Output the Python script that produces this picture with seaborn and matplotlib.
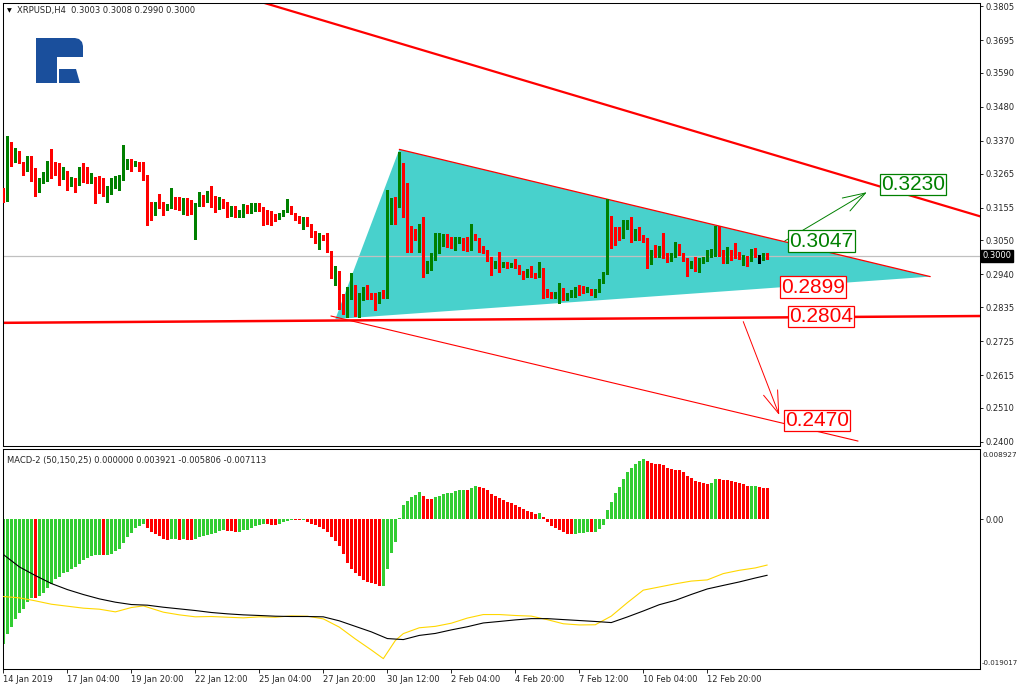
import numpy as np
import pandas as pd
import matplotlib
matplotlib.use('Agg')
import matplotlib.pyplot as plt
import matplotlib.transforms as mtransforms
from matplotlib.patches import Polygon
import seaborn as sns

# ---------------- data (H4 bars, 14 Jan 12:00 onward) ----------------
opens = [
    0.3199, 0.3188, 0.3342, 0.3313, 0.3338, 0.3302, 0.3275, 0.3320, 0.3282, 0.3207,
    0.3240, 0.3263, 0.3287, 0.3287, 0.3280, 0.3252, 0.3274, 0.3229, 0.3235, 0.3229,
    0.3265, 0.3259, 0.3248, 0.3252, 0.3248, 0.3227, 0.3202, 0.3202, 0.3220, 0.3235,
    0.3243, 0.3294, 0.3313, 0.3291, 0.3297, 0.3283, 0.3261, 0.3169, 0.3143, 0.3168,
    0.3164, 0.3154, 0.3156, 0.3190, 0.3186, 0.3151, 0.3177, 0.3164, 0.3139, 0.3164,
    0.3184, 0.3175, 0.3184, 0.3171, 0.3156, 0.3184, 0.3162, 0.3134, 0.3143, 0.3126,
    0.3139, 0.3162, 0.3143, 0.3162, 0.3169, 0.3151, 0.3139, 0.3130, 0.3130, 0.3124,
    0.3130, 0.3145, 0.3158, 0.3139, 0.3124, 0.3117, 0.3119, 0.3100, 0.3080, 0.3055,
    0.3066, 0.3059, 0.3014, 0.2932, 0.2950, 0.2874, 0.2841, 0.2888, 0.2898, 0.2852,
    0.2860, 0.2884, 0.2874, 0.2870, 0.2850, 0.2882, 0.2865, 0.3158, 0.3171, 0.3158,
    0.3298, 0.3214, 0.3088, 0.3085, 0.3060, 0.3081, 0.2960, 0.2981, 0.3002, 0.3044,
    0.3042, 0.3044, 0.3036, 0.3026, 0.3048, 0.3054, 0.3035, 0.3022, 0.3062, 0.3055,
    0.3023, 0.3019, 0.2994, 0.2962, 0.2976, 0.2965, 0.2978, 0.2967, 0.2976, 0.2967,
    0.2946, 0.2936, 0.2951, 0.2943, 0.2935, 0.2960, 0.2887, 0.2881, 0.2868, 0.2868,
    0.2893, 0.2860, 0.2877, 0.2879, 0.2898, 0.2893, 0.2888, 0.2890, 0.2874, 0.2888,
    0.2917, 0.2943, 0.3123, 0.3088, 0.3083, 0.3065, 0.3092, 0.3104, 0.3053, 0.3083,
    0.3062, 0.3056, 0.2992, 0.3019, 0.3008, 0.3013, 0.3002, 0.2986, 0.3002, 0.3012,
    0.3008, 0.2989, 0.2962, 0.2981, 0.2960, 0.2981, 0.2989, 0.2997, 0.3013, 0.3088,
    0.3015, 0.3002, 0.3010, 0.3010, 0.3008, 0.2995, 0.2997, 0.2989, 0.3015, 0.2999,
    0.2992, 0.3003,
]
highs = [
    0.3218, 0.3385, 0.3366, 0.3349, 0.3338, 0.3302, 0.3323, 0.3323, 0.3282, 0.3250,
    0.3269, 0.3306, 0.3345, 0.3302, 0.3300, 0.3285, 0.3274, 0.3253, 0.3252, 0.3285,
    0.3300, 0.3285, 0.3267, 0.3255, 0.3256, 0.3252, 0.3224, 0.3252, 0.3257, 0.3259,
    0.3356, 0.3313, 0.3313, 0.3304, 0.3301, 0.3302, 0.3261, 0.3175, 0.3175, 0.3199,
    0.3175, 0.3168, 0.3220, 0.3190, 0.3188, 0.3186, 0.3186, 0.3181, 0.3171, 0.3207,
    0.3197, 0.3209, 0.3224, 0.3192, 0.3190, 0.3184, 0.3173, 0.3162, 0.3162, 0.3147,
    0.3166, 0.3164, 0.3169, 0.3171, 0.3171, 0.3156, 0.3147, 0.3145, 0.3136, 0.3139,
    0.3149, 0.3184, 0.3162, 0.3139, 0.3128, 0.3126, 0.3126, 0.3104, 0.3080, 0.3074,
    0.3068, 0.3072, 0.3014, 0.2967, 0.2952, 0.2877, 0.2900, 0.2943, 0.2905, 0.2879,
    0.2900, 0.2906, 0.2879, 0.2879, 0.2884, 0.2890, 0.3212, 0.3185, 0.3190, 0.3335,
    0.3300, 0.3236, 0.3096, 0.3085, 0.3104, 0.3124, 0.2984, 0.3008, 0.3074, 0.3072,
    0.3070, 0.3070, 0.3062, 0.3062, 0.3062, 0.3056, 0.3062, 0.3102, 0.3069, 0.3057,
    0.3031, 0.3019, 0.2997, 0.2984, 0.3013, 0.2979, 0.2980, 0.2978, 0.2990, 0.2970,
    0.2950, 0.2956, 0.2967, 0.2945, 0.2981, 0.2962, 0.2892, 0.2884, 0.2882, 0.2913,
    0.2895, 0.2881, 0.2890, 0.2900, 0.2906, 0.2903, 0.2900, 0.2893, 0.2892, 0.2924,
    0.2949, 0.3182, 0.3128, 0.3094, 0.3092, 0.3115, 0.3115, 0.3124, 0.3088, 0.3092,
    0.3067, 0.3058, 0.3019, 0.3035, 0.3031, 0.3074, 0.3008, 0.3008, 0.3045, 0.3038,
    0.3010, 0.2992, 0.2984, 0.2995, 0.2992, 0.2997, 0.3019, 0.3021, 0.3096, 0.3096,
    0.3019, 0.3029, 0.3019, 0.3040, 0.3013, 0.3002, 0.2999, 0.3021, 0.3024, 0.3002,
    0.3008, 0.3008,
]
lows = [
    0.3173, 0.3178, 0.3291, 0.3302, 0.3299, 0.3259, 0.3272, 0.3240, 0.3194, 0.3207,
    0.3234, 0.3240, 0.3250, 0.3261, 0.3229, 0.3248, 0.3213, 0.3224, 0.3206, 0.3227,
    0.3237, 0.3235, 0.3235, 0.3169, 0.3202, 0.3194, 0.3172, 0.3199, 0.3218, 0.3212,
    0.3243, 0.3280, 0.3272, 0.3288, 0.3272, 0.3245, 0.3100, 0.3114, 0.3132, 0.3154,
    0.3130, 0.3147, 0.3154, 0.3151, 0.3149, 0.3134, 0.3132, 0.3134, 0.3053, 0.3162,
    0.3162, 0.3173, 0.3156, 0.3141, 0.3151, 0.3154, 0.3126, 0.3128, 0.3124, 0.3124,
    0.3126, 0.3139, 0.3139, 0.3143, 0.3143, 0.3100, 0.3102, 0.3098, 0.3113, 0.3119,
    0.3128, 0.3141, 0.3134, 0.3115, 0.3106, 0.3087, 0.3096, 0.3061, 0.3042, 0.3021,
    0.3051, 0.3012, 0.2928, 0.2907, 0.2830, 0.2812, 0.2804, 0.2860, 0.2806, 0.2804,
    0.2857, 0.2860, 0.2860, 0.2825, 0.2847, 0.2863, 0.2863, 0.3104, 0.3104, 0.3158,
    0.3126, 0.3013, 0.3013, 0.3051, 0.3013, 0.2933, 0.2943, 0.2954, 0.2986, 0.3008,
    0.3033, 0.3027, 0.3024, 0.3019, 0.3040, 0.3019, 0.3017, 0.3019, 0.3051, 0.3013,
    0.3010, 0.2984, 0.2938, 0.2960, 0.2949, 0.2963, 0.2960, 0.2963, 0.2960, 0.2941,
    0.2924, 0.2933, 0.2933, 0.2930, 0.2933, 0.2863, 0.2868, 0.2863, 0.2863, 0.2847,
    0.2857, 0.2857, 0.2868, 0.2868, 0.2874, 0.2879, 0.2884, 0.2874, 0.2868, 0.2884,
    0.2913, 0.2941, 0.3024, 0.3035, 0.3051, 0.3056, 0.3088, 0.3045, 0.3051, 0.3051,
    0.3045, 0.2960, 0.2973, 0.2997, 0.2997, 0.2992, 0.2981, 0.2984, 0.2997, 0.3002,
    0.2984, 0.2935, 0.2960, 0.2952, 0.2949, 0.2976, 0.2984, 0.2995, 0.3000, 0.3000,
    0.2976, 0.2976, 0.2986, 0.2992, 0.2989, 0.2970, 0.2967, 0.2984, 0.2995, 0.2976,
    0.2986, 0.2990,
]
closes = [
    0.3188, 0.3339, 0.3313, 0.3338, 0.3302, 0.3275, 0.3320, 0.3277, 0.3207, 0.3242,
    0.3264, 0.3287, 0.3283, 0.3277, 0.3252, 0.3271, 0.3229, 0.3240, 0.3229, 0.3265,
    0.3255, 0.3252, 0.3255, 0.3246, 0.3224, 0.3202, 0.3204, 0.3220, 0.3235, 0.3244,
    0.3296, 0.3313, 0.3291, 0.3297, 0.3283, 0.3259, 0.3162, 0.3143, 0.3172, 0.3164,
    0.3156, 0.3160, 0.3190, 0.3181, 0.3151, 0.3177, 0.3162, 0.3139, 0.3171, 0.3184,
    0.3175, 0.3184, 0.3169, 0.3156, 0.3186, 0.3162, 0.3134, 0.3143, 0.3126, 0.3139,
    0.3160, 0.3143, 0.3162, 0.3169, 0.3147, 0.3136, 0.3130, 0.3128, 0.3124, 0.3132,
    0.3145, 0.3158, 0.3136, 0.3119, 0.3113, 0.3119, 0.3098, 0.3078, 0.3055, 0.3066,
    0.3055, 0.3014, 0.2932, 0.2945, 0.2869, 0.2841, 0.2890, 0.2901, 0.2852, 0.2860,
    0.2884, 0.2874, 0.2868, 0.2849, 0.2879, 0.2868, 0.3161, 0.3171, 0.3158, 0.3298,
    0.3158, 0.3083, 0.3081, 0.3060, 0.3081, 0.2960, 0.2981, 0.3008, 0.3044, 0.3046,
    0.3047, 0.3035, 0.3026, 0.3054, 0.3054, 0.3029, 0.3024, 0.3059, 0.3053, 0.3021,
    0.3016, 0.2991, 0.2962, 0.2980, 0.2969, 0.2973, 0.2971, 0.2973, 0.2963, 0.2943,
    0.2935, 0.2951, 0.2941, 0.2933, 0.2962, 0.2884, 0.2876, 0.2868, 0.2879, 0.2893,
    0.2860, 0.2877, 0.2882, 0.2895, 0.2893, 0.2888, 0.2891, 0.2879, 0.2888, 0.2922,
    0.2946, 0.3118, 0.3045, 0.3042, 0.3065, 0.3096, 0.3108, 0.3053, 0.3083, 0.3060,
    0.3053, 0.2992, 0.3002, 0.3000, 0.3024, 0.2997, 0.2984, 0.3002, 0.3013, 0.3008,
    0.2989, 0.2962, 0.2981, 0.2960, 0.2988, 0.2992, 0.2997, 0.3015, 0.3088, 0.3013,
    0.3002, 0.3011, 0.2995, 0.2995, 0.2992, 0.2999, 0.2986, 0.3017, 0.2997, 0.2999,
    0.3002, 0.3000,
]

macd_hist = [
    -0.01586, -0.01459, -0.01371, -0.01269, -0.01193, -0.01138, -0.01049, -0.00998, -0.01003, -0.00973,
    -0.00935, -0.00871, -0.00816, -0.00761, -0.00732, -0.00681, -0.00668, -0.00635, -0.00605, -0.00571,
    -0.00520, -0.00491, -0.00465, -0.00457, -0.00453, -0.00457, -0.00448, -0.00436, -0.00406, -0.00372,
    -0.00300, -0.00224, -0.00173, -0.00110, -0.00089, -0.00063, -0.00110, -0.00165, -0.00190, -0.00216,
    -0.00245, -0.00266, -0.00254, -0.00250, -0.00266, -0.00254, -0.00258, -0.00266, -0.00245, -0.00224,
    -0.00207, -0.00199, -0.00190, -0.00169, -0.00152, -0.00140, -0.00148, -0.00152, -0.00165, -0.00161,
    -0.00140, -0.00131, -0.00110, -0.00089, -0.00076, -0.00063, -0.00066, -0.00068, -0.00070, -0.00063,
    -0.00038, -0.00017, -0.00008, -0.00011, -0.00013, -0.00008, -0.00030, -0.00055, -0.00076, -0.00097,
    -0.00127, -0.00165, -0.00224, -0.00275, -0.00339, -0.00445, -0.00555, -0.00627, -0.00682, -0.00724,
    -0.00766, -0.00792, -0.00809, -0.00826, -0.00851, -0.00842, -0.00631, -0.00428, -0.00288, 0.00010,
    0.00178, 0.00228, 0.00279, 0.00305, 0.00343, 0.00292, 0.00254, 0.00253, 0.00279, 0.00292,
    0.00317, 0.00330, 0.00331, 0.00355, 0.00368, 0.00369, 0.00367, 0.00393, 0.00419, 0.00406,
    0.00393, 0.00368, 0.00317, 0.00292, 0.00266, 0.00241, 0.00216, 0.00203, 0.00178, 0.00152,
    0.00127, 0.00101, 0.00089, 0.00063, 0.00076, 0.00025, -0.00038, -0.00089, -0.00114, -0.00140,
    -0.00165, -0.00190, -0.00191, -0.00189, -0.00178, -0.00177, -0.00165, -0.00166, -0.00164, -0.00127,
    -0.00076, 0.00114, 0.00216, 0.00330, 0.00406, 0.00508, 0.00596, 0.00647, 0.00698, 0.00736,
    0.00761, 0.00736, 0.00711, 0.00698, 0.00697, 0.00685, 0.00647, 0.00635, 0.00622, 0.00621,
    0.00596, 0.00546, 0.00520, 0.00482, 0.00470, 0.00457, 0.00444, 0.00457, 0.00508, 0.00507,
    0.00495, 0.00494, 0.00482, 0.00470, 0.00457, 0.00444, 0.00419, 0.00420, 0.00421, 0.00410,
    0.00400, 0.00392,
]

# MACD lines, read every few bars
signal_bars = [0, 4, 8, 12, 16, 20, 24, 28, 32, 36, 40, 44, 48, 52, 56, 60, 64, 68, 72, 76,
               80, 84, 88, 92, 96, 100, 104, 108, 112, 116, 120, 124, 128, 132, 136, 140, 144,
               148, 152, 156, 160, 164, 168, 172, 176, 180, 184, 188, 191]
signal_vals = [-0.00448, -0.00605, -0.00715, -0.00816, -0.00893, -0.00956, -0.01011, -0.01053,
               -0.01083, -0.01091, -0.01117, -0.01138, -0.01159, -0.01184, -0.01201, -0.01214,
               -0.01222, -0.01231, -0.01235, -0.01235, -0.01239, -0.01290, -0.01360, -0.01430,
               -0.01515, -0.01528, -0.01475, -0.01450, -0.01405, -0.01365, -0.01317, -0.01298,
               -0.01278, -0.01262, -0.01262, -0.01274, -0.01286, -0.01298, -0.01312, -0.01241,
               -0.01165, -0.01085, -0.01030, -0.00955, -0.00885, -0.00840, -0.00796, -0.00746,
               -0.00711]
main_bars = [0, 4, 8, 12, 16, 20, 24, 28, 32, 35, 40, 44, 48, 52, 56, 60, 64, 68, 72, 76,
             80, 84, 88, 92, 95, 98, 100, 104, 108, 112, 116, 120, 124, 128, 132, 136, 140,
             144, 148, 152, 156, 160, 164, 168, 172, 176, 180, 184, 188, 191]
main_vals = [-0.00981, -0.00998, -0.01036, -0.01079, -0.01104, -0.01129, -0.01142, -0.01176,
             -0.01121, -0.01100, -0.01180, -0.01214, -0.01239, -0.01235, -0.01244, -0.01252,
             -0.01239, -0.01244, -0.01227, -0.01231, -0.01265, -0.01370, -0.01520, -0.01660,
             -0.01770, -0.01540, -0.01452, -0.01378, -0.01360, -0.01320, -0.01255, -0.01210,
             -0.01210, -0.01222, -0.01230, -0.01275, -0.01327, -0.01342, -0.01340, -0.01230,
             -0.01060, -0.00900, -0.00860, -0.00820, -0.00785, -0.00770, -0.00690, -0.00648,
             -0.00618, -0.00581]

time_ticks = [0, 16, 32, 48, 64, 80, 96, 112, 128, 144, 160, 176]
time_labels = ['14 Jan 2019', '17 Jan 04:00', '19 Jan 20:00', '22 Jan 12:00', '25 Jan 04:00',
               '27 Jan 20:00', '30 Jan 12:00', '2 Feb 04:00', '4 Feb 20:00', '7 Feb 12:00',
               '10 Feb 04:00', '12 Feb 20:00']
price_ticks = [0.3805, 0.3695, 0.3590, 0.3480, 0.3370, 0.3265, 0.3155, 0.3050,
               0.2940, 0.2835, 0.2725, 0.2615, 0.2510, 0.2400]

# drawn objects (bar index, price)
triangle_pts = [(83, 0.2796), (99, 0.3343), (231.75, 0.2933)]
channel_top = ([60, 250], [0.3835, 0.3105])
support_line = ([-0.1, 244.2], [0.2784, 0.2806])
channel_low = ([81.9, 213.7], [0.2806, 0.2403])
up_arrow = ((195.4, 0.3048), (215.9, 0.3205))
down_arrow = ((185.0, 0.2788), (194.0, 0.2487))
level_bars = [227.4, 204.5, 202.4, 204.4, 203.4]
level_vals = [0.3230, 0.3047, 0.2899, 0.2804, 0.2470]
level_up = [True, True, False, False, False]

last_price = 0.3000

# ---------------- drawing ----------------
sns.set_style('white')
plt.rcParams['font.family'] = ['DejaVu Sans']
plt.rcParams['axes.linewidth'] = 0.75

GREEN = '#008000'
RED = '#FF0000'
W, H = 1021, 690

fig = plt.figure(figsize=(W / 100, H / 100), dpi=100)
ax = fig.add_axes([3 / W, 1 - 446 / H, 977 / W, 443 / H])
axm = fig.add_axes([3 / W, 1 - 669 / H, 977 / W, 220 / H])

x = np.arange(len(opens))
o, h, l, c = map(np.array, (opens, highs, lows, closes))

# triangle and its upper edge
tri = Polygon(triangle_pts, closed=True, facecolor='#48D1CC', edgecolor='none', zorder=1)
ax.add_patch(tri)
ax.plot([triangle_pts[1][0], triangle_pts[2][0]], [triangle_pts[1][1], triangle_pts[2][1]],
        color=RED, lw=0.9, zorder=2)

# current price line
ax.axhline(last_price, color='#C0C0C0', lw=0.9, zorder=1.5)

# candles
col = np.where(c > o, GREEN, np.where(c < o, RED, 'black'))
ax.vlines(x, l, h, colors=col, lw=0.8, zorder=3, antialiased=False)
body = np.maximum(np.abs(c - o), 0.0003)
ax.bar(x, body, bottom=np.minimum(o, c), width=0.75, color=col, zorder=4,
       antialiased=False, linewidth=0)

# trend lines
ax.plot(*channel_top, color=RED, lw=1.6, zorder=2)
ax.plot(*support_line, color=RED, lw=1.8, zorder=2)
ax.plot(*channel_low, color=RED, lw=0.8, zorder=2)

for (p0, p1), colr in ((up_arrow, GREEN), (down_arrow, RED)):
    ax.annotate('', xy=p1, xytext=p0, zorder=5,
                arrowprops=dict(arrowstyle='->,head_length=0.9,head_width=0.3',
                                color=colr, lw=0.7, shrinkA=0, shrinkB=0, mutation_scale=18))

for xb, v, up in zip(level_bars, level_vals, level_up):
    colr = GREEN if up else RED
    ax.text(xb, v, f'{v:.4f}', ha='center', va='center', fontsize=15, color=colr,
            family=['Liberation Sans Narrow', 'Liberation Sans', 'DejaVu Sans'], zorder=6,
            bbox=dict(boxstyle='square,pad=0.06', fc='white', ec=colr, lw=0.9))

ax.set_xlim(-0.1, 244.2)
ax.set_ylim(0.23871, 0.38147)
ax.yaxis.tick_right()
ax.set_yticks(price_ticks)
ax.set_yticklabels([f'{t:.4f}' for t in price_ticks])
ax.tick_params(axis='y', right=True, length=2.5, width=0.7, pad=1.5, labelsize=6, direction='out')
ax.tick_params(axis='x', bottom=False, labelbottom=False)

ytr = mtransforms.blended_transform_factory(ax.transAxes, ax.transData)
ax.text(1.0025, last_price, f'{last_price:.4f}', transform=ytr, ha='left', va='center',
        fontsize=6, color='white', clip_on=False,
        bbox=dict(boxstyle='square,pad=0.18', fc='black', ec='black'))

# ---------------- MACD panel ----------------
hist = np.array(macd_hist)
rising = np.diff(hist, prepend=hist[0] - 1) >= 0
hcol = np.where(rising, '#32CD32', RED)
axm.bar(x, hist, width=0.75, color=hcol, linewidth=0, antialiased=False, zorder=2)

lines = pd.concat([
    pd.DataFrame({'bar': main_bars, 'value': main_vals, 'line': 'main'}),
    pd.DataFrame({'bar': signal_bars, 'value': signal_vals, 'line': 'signal'}),
])
sns.lineplot(data=lines, x='bar', y='value', hue='line', palette={'main': '#FFD700', 'signal': 'black'},
             ax=axm, lw=0.8, legend=False, zorder=3)

axm.set_xlim(-0.1, 244.2)
axm.set_ylim(-0.019017, 0.008927)
axm.set_xlabel('')
axm.set_ylabel('')
axm.yaxis.tick_right()
axm.set_yticks([0.0])
axm.set_yticklabels(['0.00'])
axm.tick_params(axis='y', right=True, length=2.5, width=0.7, pad=1.5, labelsize=6)
axm.set_xticks(time_ticks)
axm.set_xticklabels(time_labels)
for lab in axm.get_xticklabels():
    lab.set_horizontalalignment('left')
axm.tick_params(axis='x', bottom=True, length=3, width=0.7, pad=1.5, labelsize=6)

mtr = mtransforms.blended_transform_factory(axm.transAxes, axm.transAxes)
axm.text(1.003, 0.985, '0.008927', transform=mtr, ha='left', va='top', fontsize=5.2, clip_on=False)
axm.text(1.002, 0.015, '-0.019017', transform=mtr, ha='left', va='bottom', fontsize=5.0, clip_on=False)
axm.text(0.004, 0.97, 'MACD-2 (50,150,25) 0.000000 0.003921 -0.005806 -0.007113',
         transform=mtr, ha='left', va='top', fontsize=6)

for a in (ax, axm):
    for s in a.spines.values():
        s.set_visible(True)
        s.set_color('black')
        s.set_linewidth(0.75)

# ---------------- header and logo (pixel overlay) ----------------
ov = fig.add_axes([0, 0, 1, 1], zorder=10)
ov.set_xlim(0, W)
ov.set_ylim(H, 0)
ov.axis('off')
ov.patch.set_alpha(0)
ov.text(7, 11, '\u25bc', fontsize=4.5, ha='left', va='center', color='black')
ov.text(17, 11, 'XRPUSD,H4  0.3003 0.3008 0.2990 0.3000', fontsize=6, ha='left', va='center')

logo_blue = '#1A4F9C'
ov.add_patch(Polygon([(36, 83), (36, 38), (75, 38), (79, 39), (82, 42), (83, 46), (83, 57),
                      (57, 57), (57, 83)], closed=True, fc=logo_blue, ec='none'))
ov.add_patch(Polygon([(59, 69), (76, 69), (80, 83), (59, 83)], closed=True, fc=logo_blue, ec='none'))

fig.savefig('out.png', dpi=100, facecolor='white')
